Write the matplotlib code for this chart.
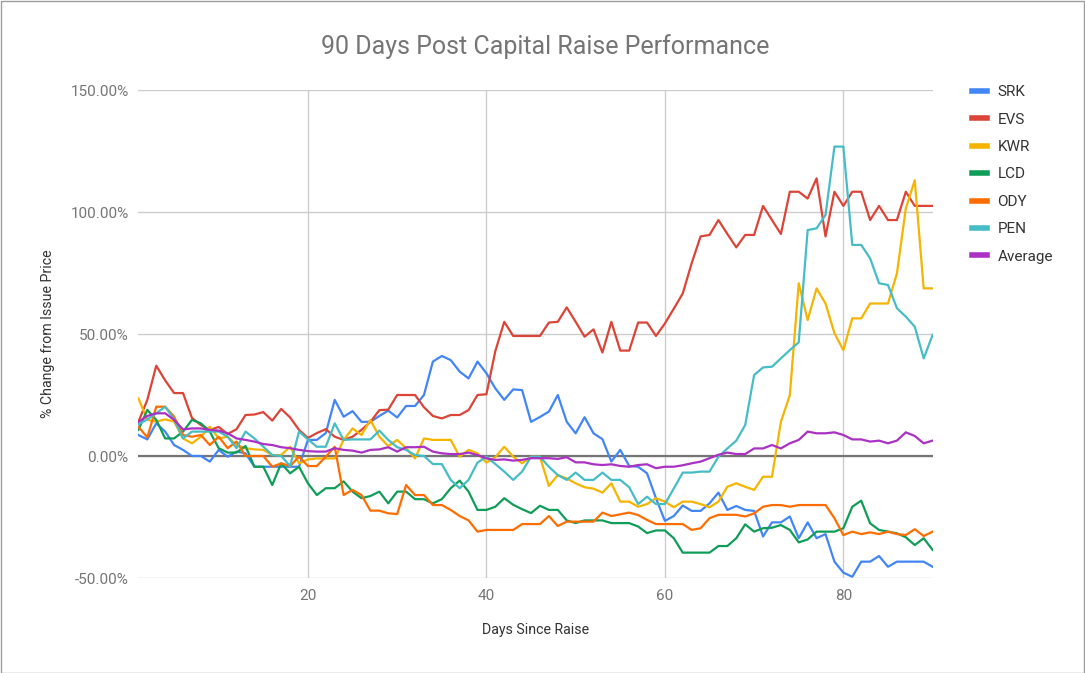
import matplotlib
matplotlib.use("Agg")
import matplotlib.pyplot as plt
from matplotlib.patches import Rectangle
from matplotlib.ticker import FuncFormatter, FixedLocator

plt.rcParams['font.family'] = ['Roboto', 'DejaVu Sans']

days = list(range(1, 91))

SRK = [8.6, 6.8, 13.4, 10, 4.5, 2.5, 0, 0, -2.3, 2.5, -0.3, 1.8, 1.1, -4.4, -4.4, -4.4, -4.4, -4.4, -4.4, 6.6, 6.6, 9.4,
       23, 16.1, 18.4, 14, 14, 16.4, 18.6, 15.8, 20.5, 20.5, 25, 38.7, 41, 39.3, 34.6, 31.8, 38.7, 33.9, 27.7, 23, 27.3,
       27, 14, 16, 18.2, 25, 14, 9.3, 15.9, 9.3, 6.9, -2.3, 2.5, -4.1, -4.4, -7.1, -17.3, -26.6, -24.6, -20.3, -22.5, -22.5, -19.4, -15,
       -22.1, -20.5, -22.1, -22.5, -33, -27.2, -27.2, -24.8, -33.7, -27.2, -33.7, -32, -43.3, -47.8, -49.5, -43.3, -43.3, -41, -45.4, -43.3, -43.3, -43.3, -43.3, -45.4]

EVS = [14, 23, 37, 31, 25.8, 25.8, 15.6, 12.7, 10.7, 11.9, 9, 11, 16.8, 17, 18, 14.5, 19.3, 15.8, 10.7, 7.4, 9.4, 11,
       7.9, 6.6, 7.9, 10.7, 14, 18.8, 19, 25, 25, 25, 20, 16.4, 15.4, 16.8, 16.8, 18.8, 25, 25.3, 43, 55, 49.2,
       49.2, 49.2, 49.2, 54.7, 55, 60.9, 55, 48.9, 51.9, 42.4, 55, 43.2, 43.2, 54.7, 54.7, 49.2, 54.3, 60.4, 66.6, 79, 90, 90.6, 96.7,
       91, 85.5, 90.6, 90.6, 102.5, 96.7, 91, 108.3, 108.3, 105.5, 113.8, 90, 108.3, 102.5, 108.3, 108.3, 96.7, 102.5, 96.7, 96.7, 108.3, 102.5, 102.5, 102.5]

KWR = [23.6, 14.8, 14.1, 15, 14.1, 7.2, 5.2, 7.9, 12, 7.2, 7.9, 4.5, 3.2, 2.7, 2.5, 0.4, 0.4, 3.8, -3, -1.4, -1, -1,
       -1, 6.6, 11.3, 8.6, 14.8, 7.9, 4.1, 6.6, 3.2, -1, 7.2, 6.6, 6.6, 6.6, -0.3, 2.5, 1.1, -2.7, -0.5, 3.8, -0.3,
       -3, -0.3, -0.3, -12.3, -7.8, -9.2, -11.2, -12.8, -13.4, -15, -11.2, -18.7, -18.7, -20.8, -19.7, -17.3, -18.7, -21, -18.7, -18.7, -19.7, -21, -18.7,
       -12.6, -11.2, -12.6, -13.9, -8.5, -8.5, 14, 24.9, 70.8, 55.7, 68.7, 62.5, 50.3, 43.4, 56.4, 56.4, 62.5, 62.5, 62.5, 74.8, 101.5, 113, 68.7, 68.7]

LCD = [10.7, 18.9, 14.8, 7.2, 7.2, 10, 14.8, 13.4, 10, 3.2, 1.4, 1.4, 4.1, -4.4, -4.4, -11.9, -3, -7.1, -4.4, -11.2, -16, -13.2,
       -13.2, -10.4, -14.6, -17.3, -16.4, -14.6, -19.4, -14.6, -14.6, -17.7, -17.7, -19.4, -17.7, -13.2, -10.1, -14.6, -22.1, -22.1, -20.8, -17.3, -20,
       -21.8, -23.4, -20.4, -22.1, -22.1, -26.4, -27.5, -26.4, -26.4, -26.4, -27.5, -27.5, -27.5, -28.9, -31.6, -30.5, -30.5, -33.7, -39.6, -39.6, -39.6, -39.6, -36.9,
       -36.9, -33.7, -28, -31, -29.6, -29.4, -28.3, -30.3, -35.4, -34.2, -31, -31, -31, -29.6, -20.8, -18.3, -27.6, -30.3, -31, -31.7, -33.3, -36.5, -33.7, -38.5]

ODY = [12, 7.6, 20.2, 20.2, 16.1, 8.6, 7.9, 8.6, 4.5, 7.9, 3.2, 5.9, 0, 0, 0, -4.4, -3, -4.1, -0.3, -4.1, -4.1, -0.3,
       3.8, -16, -13.9, -16, -22.4, -22.4, -23.5, -23.8, -11.9, -16, -16, -20.1, -20.1, -22.1, -24.6, -26.4, -31, -30.3, -30.3, -30.3, -30.3,
       -27.9, -27.9, -27.9, -24.6, -28.7, -26.9, -26.9, -26.9, -26.9, -23.2, -24.6, -23.9, -23.2, -24.2, -26.2, -27.9, -27.9, -27.9, -27.9, -30.3, -29.6, -25.5, -24.1,
       -24.1, -24.1, -24.8, -23.5, -20.8, -20.1, -20.1, -20.8, -20.1, -20.1, -20.1, -20.1, -25.5, -32.4, -31, -32, -31.3, -32, -31, -32, -32.4, -30, -32.8, -31]

PEN = [13, 15, 17.5, 20.2, 15, 7.2, 10, 10, 10, 10, 7.9, 3.2, 10, 7.2, 3.8, 0.4, 0, -4.1, 10, 6.8, 3.8, 3.8,
       13.4, 6.6, 6.8, 6.8, 6.8, 10.4, 6.6, 3.6, 2.5, 0.4, 0, -3.3, -3.3, -9.8, -13.2, -9.8, -2.7, -0.3, -3.3, -6.4, -9.8,
       -6.4, -0.3, -0.3, -4.4, -7.8, -9.8, -6.8, -9.8, -9.8, -6.8, -9.8, -9.8, -12.8, -19.7, -16.7, -19.7, -19.7, -13.3, -6.8, -6.8, -6.4, -6.4, -0.3,
       3.1, 6.3, 12.7, 33.2, 36.3, 36.6, 40, 43.4, 46.6, 92.6, 93.3, 98.8, 126.8, 126.8, 86.5, 86.5, 81, 70.8, 70.1, 60.6, 57.1, 53, 40, 49.6]

Average = [14, 16.4, 17.5, 17.5, 14.8, 10.9, 11.3, 11.3, 10.7, 10.4, 9.3, 7.2, 6.6, 5.9, 4.9, 4.5, 3.6, 3.2, 2.5, 2, 1.8, 1.8,
           3.2, 2.5, 2.2, 1.4, 2.5, 2.7, 3.6, 1.8, 3.6, 3.6, 3.8, 1.8, 1.1, 0.8, 0.8, 1.4, 0.4, -1, -1.6, -1.4, -1.9,
           -1.6, -0.9, -0.9, -0.9, -1.2, -0.5, -2.6, -2.6, -3.4, -3.7, -3.4, -4.1, -4.4, -3.7, -3.4, -5, -4.4, -4.4, -3.8, -3, -2.3, -0.9, 0.5,
           1.4, 0.8, 0.8, 3.1, 3.1, 4.5, 3.1, 5.2, 6.6, 10, 9.3, 9.3, 9.7, 8.6, 6.8, 6.8, 5.9, 6.3, 5.2, 6.3, 9.7, 8.2, 5.2, 6.3]

series_names = ["SRK", "EVS", "KWR", "LCD", "ODY", "PEN", "Average"]
series_values = [SRK, EVS, KWR, LCD, ODY, PEN, Average]
colors = ["#4285F4", "#DB4437", "#F4B400", "#0F9D58", "#FF6D00", "#46BDC6", "#AB30C4"]

y_ticks = [-50, 0, 50, 100, 150]
x_ticks = [20, 40, 60, 80]

W, H = 1085, 673
fig = plt.figure(figsize=(W / 100, H / 100), dpi=100)
fig.patch.set_facecolor("white")
fig.patches.append(Rectangle((0.5 / W, 0.5 / H), 1 - 1.5 / W, 1 - 1.5 / H, transform=fig.transFigure,
                             fill=False, edgecolor="#9e9e9e", linewidth=1.0))

left_px, right_px, top_px, bot_px = 138.4, 932.6, 90, 578
ax = fig.add_axes([left_px / W, 1 - bot_px / H, (right_px - left_px) / W, (bot_px - top_px) / H])

for name, vals, c in zip(series_names, series_values, colors):
    ax.plot(days, vals, color=c, linewidth=1.6, label=name, solid_joinstyle="round", zorder=3)

ax.set_xlim(1, 90)
ax.set_ylim(-50, 150)
ax.yaxis.set_major_locator(FixedLocator(y_ticks))
ax.xaxis.set_major_locator(FixedLocator(x_ticks))
ax.yaxis.set_major_formatter(FuncFormatter(lambda v, p: f"{v:.2f}%"))
ax.grid(True, color="#cccccc", linewidth=1.0, zorder=0)
ax.axhline(0, color="#757575", linewidth=1.6, zorder=2)
for s in ax.spines.values():
    s.set_visible(False)
ax.tick_params(length=0, labelsize=11, labelcolor="#757575", pad=7)
ax.tick_params(axis="x", pad=8)

ax.set_xlabel("Days Since Raise", fontsize=10.2, color="#333333", labelpad=14)
ax.set_ylabel("% Change from Issue Price", fontsize=10.2, color="#333333", labelpad=11)

fig.text(545 / W, 1 - 47 / H, "90 Days Post Capital Raise Performance", ha="center", va="center",
         fontsize=18, color="#757575")

leg = fig.legend(*ax.get_legend_handles_labels(), loc="upper left",
                 bbox_to_anchor=(966 / W, 1 - 79 / H), bbox_transform=fig.transFigure,
                 frameon=False, fontsize=11, handlelength=1.0, handletextpad=0.65, labelspacing=0.88,
                 borderaxespad=0)
for t in leg.get_texts():
    t.set_color("#333333")
for l in leg.get_lines():
    l.set_linewidth(4)

fig.savefig("out.png", dpi=100, facecolor="white")
